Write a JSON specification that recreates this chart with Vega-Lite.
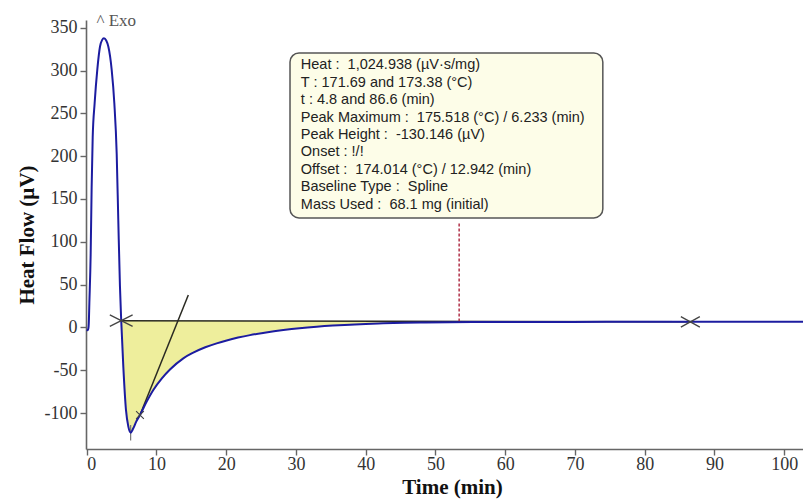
{
  "$schema": "https://vega.github.io/schema/vega-lite/v6.json",
  "width": 717,
  "height": 429,
  "autosize": {"type": "none"},
  "padding": {"left": 86, "top": 20, "right": 0, "bottom": 55},
  "background": "white",
  "config": {
    "view": {"stroke": null},
    "axis": {
      "grid": false,
      "domainColor": "#666",
      "domainWidth": 1.6,
      "tickColor": "#666",
      "tickWidth": 1.4,
      "tickSize": 6,
      "labelFont": "Liberation Serif",
      "labelFontSize": 18,
      "labelColor": "#333",
      "titleFont": "Liberation Serif",
      "titleFontSize": 21,
      "titleFontWeight": "bold",
      "titleColor": "#111"
    }
  },
  "datasets": {
    "curve": [
      {"t": 0, "hf": -3},
      {"t": 0.12, "hf": -3.2},
      {"t": 0.23, "hf": -1.5},
      {"t": 0.3, "hf": 5},
      {"t": 0.38, "hf": 28},
      {"t": 0.57, "hf": 86},
      {"t": 0.71, "hf": 164},
      {"t": 0.86, "hf": 222},
      {"t": 1.14, "hf": 262},
      {"t": 1.52, "hf": 301},
      {"t": 1.91, "hf": 328},
      {"t": 2.2, "hf": 335.5},
      {"t": 2.48, "hf": 337.6},
      {"t": 2.8, "hf": 335},
      {"t": 3.1, "hf": 328},
      {"t": 3.58, "hf": 301},
      {"t": 3.96, "hf": 262},
      {"t": 4.3, "hf": 203},
      {"t": 4.53, "hf": 125},
      {"t": 4.77, "hf": 47.6},
      {"t": 4.95, "hf": 7.9},
      {"t": 5.25, "hf": -45.8},
      {"t": 5.63, "hf": -96.4},
      {"t": 5.97, "hf": -115.9},
      {"t": 6.3, "hf": -122.9},
      {"t": 6.68, "hf": -117.8},
      {"t": 7.1, "hf": -110},
      {"t": 7.64, "hf": -102.3},
      {"t": 8.6, "hf": -86.7},
      {"t": 9.55, "hf": -73.1},
      {"t": 10.75, "hf": -59.8},
      {"t": 11.94, "hf": -49.2},
      {"t": 13.85, "hf": -36.1},
      {"t": 15.28, "hf": -29.5},
      {"t": 17.0, "hf": -23.2},
      {"t": 18.64, "hf": -18.6},
      {"t": 20.07, "hf": -15.2},
      {"t": 21.7, "hf": -11.9},
      {"t": 23.41, "hf": -9.0},
      {"t": 25.5, "hf": -6.2},
      {"t": 28.19, "hf": -3.1},
      {"t": 30.5, "hf": -0.9},
      {"t": 32.97, "hf": 0.9},
      {"t": 35.3, "hf": 2.2},
      {"t": 37.75, "hf": 3.2},
      {"t": 40.0, "hf": 4.1},
      {"t": 42.5, "hf": 4.8},
      {"t": 45.5, "hf": 5.4},
      {"t": 48.5, "hf": 5.8},
      {"t": 52, "hf": 6.1},
      {"t": 58, "hf": 6.3},
      {"t": 66, "hf": 6.4},
      {"t": 76, "hf": 6.5},
      {"t": 86.6, "hf": 6.5},
      {"t": 95, "hf": 6.5},
      {"t": 102.7, "hf": 6.5}
    ],
    "fill": [
      {"t": 4.95, "hf": 7.9, "base": 7.9},
      {"t": 5.25, "hf": -45.8, "base": 7.9},
      {"t": 5.63, "hf": -96.4, "base": 7.89},
      {"t": 5.97, "hf": -115.9, "base": 7.88},
      {"t": 6.3, "hf": -122.9, "base": 7.87},
      {"t": 6.68, "hf": -117.8, "base": 7.87},
      {"t": 7.1, "hf": -110, "base": 7.86},
      {"t": 7.64, "hf": -102.3, "base": 7.85},
      {"t": 8.6, "hf": -86.7, "base": 7.84},
      {"t": 9.55, "hf": -73.1, "base": 7.82},
      {"t": 10.75, "hf": -59.8, "base": 7.8},
      {"t": 11.94, "hf": -49.2, "base": 7.78},
      {"t": 13.85, "hf": -36.1, "base": 7.75},
      {"t": 15.28, "hf": -29.5, "base": 7.72},
      {"t": 17.0, "hf": -23.2, "base": 7.69},
      {"t": 18.64, "hf": -18.6, "base": 7.66},
      {"t": 20.07, "hf": -15.2, "base": 7.64},
      {"t": 21.7, "hf": -11.9, "base": 7.61},
      {"t": 23.41, "hf": -9.0, "base": 7.58},
      {"t": 25.5, "hf": -6.2, "base": 7.55},
      {"t": 28.19, "hf": -3.1, "base": 7.5},
      {"t": 30.5, "hf": -0.9, "base": 7.46},
      {"t": 32.97, "hf": 0.9, "base": 7.42},
      {"t": 35.3, "hf": 2.2, "base": 7.38},
      {"t": 37.75, "hf": 3.2, "base": 7.34},
      {"t": 40.0, "hf": 4.1, "base": 7.3},
      {"t": 42.5, "hf": 4.8, "base": 7.26},
      {"t": 45.5, "hf": 5.4, "base": 7.21},
      {"t": 48.5, "hf": 5.8, "base": 7.15},
      {"t": 52, "hf": 6.1, "base": 7.09},
      {"t": 58, "hf": 6.3, "base": 6.99},
      {"t": 66, "hf": 6.4, "base": 6.85},
      {"t": 76, "hf": 6.5, "base": 6.68},
      {"t": 86.6, "hf": 6.5, "base": 6.5}
    ],
    "segments": [
      {"kind": "baseline", "t": 4.95, "hf": 7.9, "t2": 86.6, "hf2": 6.5},
      {"kind": "tangent", "t": 7.64, "hf": -102.3, "t2": 14.57, "hf2": 37.8},
      {"kind": "peak", "t": 6.3, "hf": -114, "t2": 6.3, "hf2": -132},
      {"kind": "marker", "t": 53.4, "hf": 7, "t2": 53.4, "hf2": 122}
    ],
    "markers": [
      {"kind": "start", "t": 4.95, "hf": 7.9},
      {"kind": "end", "t": 86.55, "hf": 6.5},
      {"kind": "tangent", "t": 7.64, "hf": -102.3}
    ],
    "box": [
      {"t": 29.15, "t2": 74.0, "hf": 320.5, "hf2": 127.8}
    ],
    "notes": [
      {"t": 30.7, "hf": 306.4, "line": "Heat :\u00a0 1,024.938 (µV·s/mg)"},
      {"t": 30.7, "hf": 286.0, "line": "T : 171.69 and 173.38 (°C)"},
      {"t": 30.7, "hf": 265.6, "line": "t : 4.8 and 86.6 (min)"},
      {"t": 30.7, "hf": 245.1, "line": "Peak Maximum :\u00a0 175.518 (°C) / 6.233 (min)"},
      {"t": 30.7, "hf": 224.7, "line": "Peak Height :\u00a0 -130.146 (µV)"},
      {"t": 30.7, "hf": 204.3, "line": "Onset : !/!"},
      {"t": 30.7, "hf": 183.8, "line": "Offset :\u00a0 174.014 (°C) / 12.942 (min)"},
      {"t": 30.7, "hf": 163.4, "line": "Baseline Type :\u00a0 Spline"},
      {"t": 30.7, "hf": 143.0, "line": "Mass Used :\u00a0 68.1 mg (initial)"}
    ],
    "exo": [
      {"t": 1.4, "hf": 358, "label": "^ Exo"}
    ]
  },
  "layer": [
    {
      "data": {"name": "fill"},
      "mark": {"type": "area", "color": "#eeee9c", "opacity": 1, "interpolate": "monotone", "clip": true},
      "encoding": {
        "x": {"field": "t", "type": "quantitative", "scale": {"domain": [-0.1, 102.7], "nice": false, "zero": false}, "title": "Time (min)",
          "axis": {"values": [0, 10, 20, 30, 40, 50, 60, 70, 80, 90, 100], "labelPadding": 0, "titleBaseline": "alphabetic", "titleX": 366, "titleY": 44}},
        "y": {"field": "hf", "type": "quantitative", "scale": {"domain": [-142, 359], "nice": false, "zero": false}, "title": "Heat Flow (µV)",
          "axis": {"values": [-100, -50, 0, 50, 100, 150, 200, 250, 300, 350], "labelPadding": 3, "titlePadding": 7, "labelExpr": "replace(datum.label, '\u2212', '-')"}},
        "y2": {"field": "base"}
      }
    },
    {
      "data": {"name": "segments"},
      "transform": [{"filter": "datum.kind === 'baseline' || datum.kind === 'tangent'"}],
      "mark": {"type": "rule", "color": "#2a2a22", "strokeWidth": 1.5, "clip": true},
      "encoding": {
        "x": {"field": "t", "type": "quantitative", "scale": {"domain": [-0.1, 102.7], "nice": false, "zero": false}, "title": "Time (min)"},
        "y": {"field": "hf", "type": "quantitative", "scale": {"domain": [-142, 359], "nice": false, "zero": false}, "title": "Heat Flow (µV)"},
        "x2": {"field": "t2"},
        "y2": {"field": "hf2"}
      }
    },
    {
      "data": {"name": "segments"},
      "transform": [{"filter": "datum.kind === 'peak'"}],
      "mark": {"type": "rule", "color": "#777", "strokeWidth": 1.2, "clip": true},
      "encoding": {
        "x": {"field": "t", "type": "quantitative", "scale": {"domain": [-0.1, 102.7], "nice": false, "zero": false}, "title": "Time (min)"},
        "y": {"field": "hf", "type": "quantitative", "scale": {"domain": [-142, 359], "nice": false, "zero": false}, "title": "Heat Flow (µV)"},
        "x2": {"field": "t2"},
        "y2": {"field": "hf2"}
      }
    },
    {
      "data": {"name": "segments"},
      "transform": [{"filter": "datum.kind === 'marker'"}],
      "mark": {"type": "rule", "color": "#b03048", "strokeWidth": 1.5, "strokeDash": [3, 2], "clip": true},
      "encoding": {
        "x": {"field": "t", "type": "quantitative", "scale": {"domain": [-0.1, 102.7], "nice": false, "zero": false}, "title": "Time (min)"},
        "y": {"field": "hf", "type": "quantitative", "scale": {"domain": [-142, 359], "nice": false, "zero": false}, "title": "Heat Flow (µV)"},
        "x2": {"field": "t2"},
        "y2": {"field": "hf2"}
      }
    },
    {
      "data": {"name": "curve"},
      "mark": {"type": "line", "color": "#1c1ca0", "strokeWidth": 2, "interpolate": "monotone", "clip": true},
      "encoding": {
        "x": {"field": "t", "type": "quantitative", "scale": {"domain": [-0.1, 102.7], "nice": false, "zero": false}, "title": "Time (min)"},
        "y": {"field": "hf", "type": "quantitative", "scale": {"domain": [-142, 359], "nice": false, "zero": false}, "title": "Heat Flow (µV)"}
      }
    },
    {
      "data": {"name": "markers"},
      "transform": [{"filter": "datum.kind === 'start'"}],
      "mark": {"type": "point", "shape": "M-1,-0.5L1,0.5M-1,0.5L1,-0.5", "size": 520, "filled": false, "stroke": "#444", "strokeWidth": 1.3, "opacity": 1},
      "encoding": {
        "x": {"field": "t", "type": "quantitative", "scale": {"domain": [-0.1, 102.7], "nice": false, "zero": false}, "title": "Time (min)"},
        "y": {"field": "hf", "type": "quantitative", "scale": {"domain": [-142, 359], "nice": false, "zero": false}, "title": "Heat Flow (µV)"}
      }
    },
    {
      "data": {"name": "markers"},
      "transform": [{"filter": "datum.kind === 'end'"}],
      "mark": {"type": "point", "shape": "M-1,-0.55L1,0.55M-1,0.55L1,-0.55", "size": 360, "filled": false, "stroke": "#444", "strokeWidth": 1.3, "opacity": 1},
      "encoding": {
        "x": {"field": "t", "type": "quantitative", "scale": {"domain": [-0.1, 102.7], "nice": false, "zero": false}, "title": "Time (min)"},
        "y": {"field": "hf", "type": "quantitative", "scale": {"domain": [-142, 359], "nice": false, "zero": false}, "title": "Heat Flow (µV)"}
      }
    },
    {
      "data": {"name": "markers"},
      "transform": [{"filter": "datum.kind === 'tangent'"}],
      "mark": {"type": "point", "shape": "M-1,-1L1,1M-1,1L1,-1", "size": 60, "filled": false, "stroke": "#444", "strokeWidth": 1.1, "opacity": 1},
      "encoding": {
        "x": {"field": "t", "type": "quantitative", "scale": {"domain": [-0.1, 102.7], "nice": false, "zero": false}, "title": "Time (min)"},
        "y": {"field": "hf", "type": "quantitative", "scale": {"domain": [-142, 359], "nice": false, "zero": false}, "title": "Heat Flow (µV)"}
      }
    },
    {
      "data": {"name": "box"},
      "mark": {"type": "rect", "fill": "#fdfde8", "stroke": "#555", "strokeWidth": 1.5, "cornerRadius": 9},
      "encoding": {
        "x": {"field": "t", "type": "quantitative", "scale": {"domain": [-0.1, 102.7], "nice": false, "zero": false}, "title": "Time (min)"},
        "y": {"field": "hf", "type": "quantitative", "scale": {"domain": [-142, 359], "nice": false, "zero": false}, "title": "Heat Flow (µV)"},
        "x2": {"field": "t2"},
        "y2": {"field": "hf2"}
      }
    },
    {
      "data": {"name": "notes"},
      "mark": {"type": "text", "align": "left", "baseline": "middle", "font": "Liberation Sans", "fontSize": 14.5, "color": "#222"},
      "encoding": {
        "x": {"field": "t", "type": "quantitative", "scale": {"domain": [-0.1, 102.7], "nice": false, "zero": false}, "title": "Time (min)"},
        "y": {"field": "hf", "type": "quantitative", "scale": {"domain": [-142, 359], "nice": false, "zero": false}, "title": "Heat Flow (µV)"},
        "text": {"field": "line"}
      }
    },
    {
      "data": {"name": "exo"},
      "mark": {"type": "text", "align": "left", "baseline": "middle", "font": "Liberation Serif", "fontSize": 17, "color": "#555"},
      "encoding": {
        "x": {"field": "t", "type": "quantitative", "scale": {"domain": [-0.1, 102.7], "nice": false, "zero": false}, "title": "Time (min)"},
        "y": {"field": "hf", "type": "quantitative", "scale": {"domain": [-142, 359], "nice": false, "zero": false}, "title": "Heat Flow (µV)"},
        "text": {"field": "label"}
      }
    }
  ]
}
